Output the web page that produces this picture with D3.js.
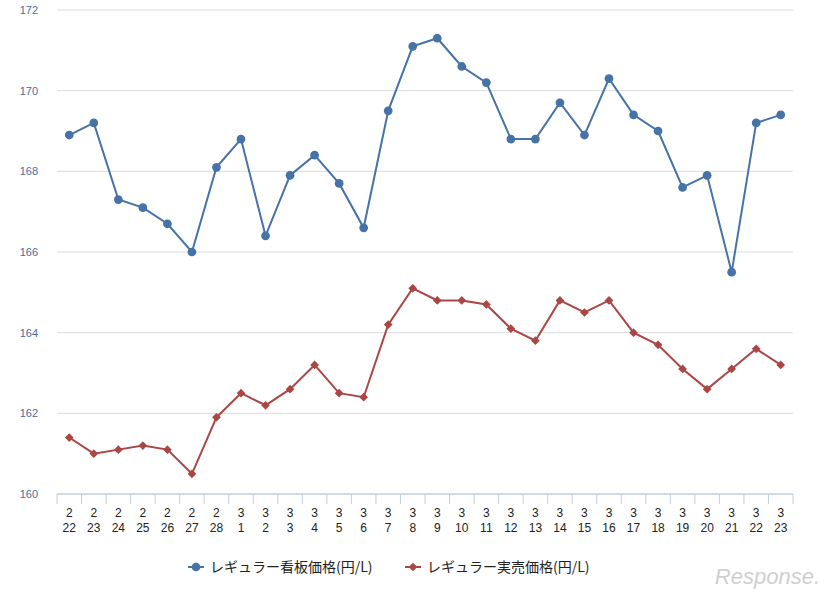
<!DOCTYPE html>
<html><head><meta charset="utf-8">
<script src="https://cdn.jsdelivr.net/npm/d3@7"></script>
<style>body{margin:0;background:#fff;font-family:"Liberation Sans",Arial,sans-serif}</style>
</head><body><svg id="c" width="832" height="596"></svg>
<script>
var months = [2,2,2,2,2,2,2,3,3,3,3,3,3,3,3,3,3,3,3,3,3,3,3,3,3,3,3,3,3,3];
var days = [22,23,24,25,26,27,28,1,2,3,4,5,6,7,8,9,10,11,12,13,14,15,16,17,18,19,20,21,22,23];
var signPrice = [168.9,169.2,167.3,167.1,166.7,166.0,168.1,168.8,166.4,167.9,168.4,167.7,166.6,169.5,171.1,171.3,170.6,170.2,168.8,168.8,169.7,168.9,170.3,169.4,169.0,167.6,167.9,165.5,169.2,169.4];
var realPrice = [161.4,161.0,161.1,161.2,161.1,160.5,161.9,162.5,162.2,162.6,163.2,162.5,162.4,164.2,165.1,164.8,164.8,164.7,164.1,163.8,164.8,164.5,164.8,164.0,163.7,163.1,162.6,163.1,163.6,163.2];
var yTicks = [160,162,164,166,168,170,172];
var seriesNames = ["レギュラー看板価格(円/L)","レギュラー実売価格(円/L)"];
var colors = ["#4572a7","#aa4643"];

var svg = d3.select("#c");
var pLeft = 57, pRight = 793, pTop = 10, pBottom = 494;
var idx = d3.range(days.length);
var x = d3.scaleBand().domain(idx).range([pLeft, pRight]);
var y = d3.scaleLinear().domain([160,172]).range([pBottom, pTop]);
var cx = i => x(i) + x.bandwidth()/2;

function marker(s) {
  return d3.symbol().type(s == 0 ? d3.symbolCircle : d3.symbolSquare).size(s == 0 ? 60 : 38)();
}

// grid
svg.append("g").selectAll("line").data(yTicks.slice(1)).enter().append("line")
  .attr("x1", pLeft).attr("x2", pRight)
  .attr("y1", d => y(d)).attr("y2", d => y(d))
  .attr("stroke", "#dcdcdc").attr("stroke-width", 1);
svg.append("g").selectAll("text").data(yTicks).enter().append("text")
  .attr("x", 38).attr("y", d => y(d) + 4).attr("text-anchor", "end")
  .attr("font-size", 11).attr("fill", "#4a6c9b").text(d => d);

// x axis
svg.append("line").attr("x1", pLeft).attr("x2", pRight).attr("y1", pBottom).attr("y2", pBottom)
  .attr("stroke", "#c0d0e0").attr("stroke-width", 1.5);
svg.append("g").selectAll("line").data(d3.range(days.length + 1)).enter().append("line")
  .attr("x1", d => pLeft + d * x.step()).attr("x2", d => pLeft + d * x.step())
  .attr("y1", pBottom).attr("y2", pBottom + 10).attr("stroke", "#c0d0e0");
var xl = svg.append("g").selectAll("text").data(idx).enter().append("text")
  .attr("text-anchor", "middle").attr("font-size", 12).attr("fill", "#222");
xl.append("tspan").attr("x", cx).attr("y", 517).text(d => months[d]);
xl.append("tspan").attr("x", cx).attr("y", 532).text(d => days[d]);

var line = d3.line().x((d,i) => cx(i)).y(d => y(d));
[signPrice, realPrice].forEach(function(data, s) {
  svg.append("path").datum(data).attr("d", line).attr("fill", "none")
    .attr("stroke", colors[s]).attr("stroke-width", 2);
  svg.append("g").selectAll("path").data(data).enter().append("path")
    .attr("d", marker(s))
    .attr("transform", (d,i) => "translate(" + cx(i) + "," + y(d) + ")" + (s == 1 ? " rotate(45)" : ""))
    .attr("fill", colors[s]);
});

// legend
var lx = [188, 405];
seriesNames.forEach(function(n, s) {
  var g = svg.append("g").attr("transform", "translate(" + lx[s] + ",567)");
  g.append("line").attr("x1", 0).attr("x2", 16).attr("stroke", colors[s]).attr("stroke-width", 2);
  g.append("path").attr("d", marker(s))
    .attr("transform", "translate(8,0)" + (s == 1 ? " rotate(45)" : "")).attr("fill", colors[s]);
  g.append("text").attr("x", 22).attr("y", 5).attr("font-size", 14).attr("fill", "#222")
    .attr("font-family", "Noto Sans CJK JP").text(n);
});

svg.append("text").attr("x", 820).attr("y", 584).attr("text-anchor", "end")
  .attr("font-size", 22).attr("font-style", "italic").attr("fill", "#d0d0d0").text("Response.");
</script></body></html>
